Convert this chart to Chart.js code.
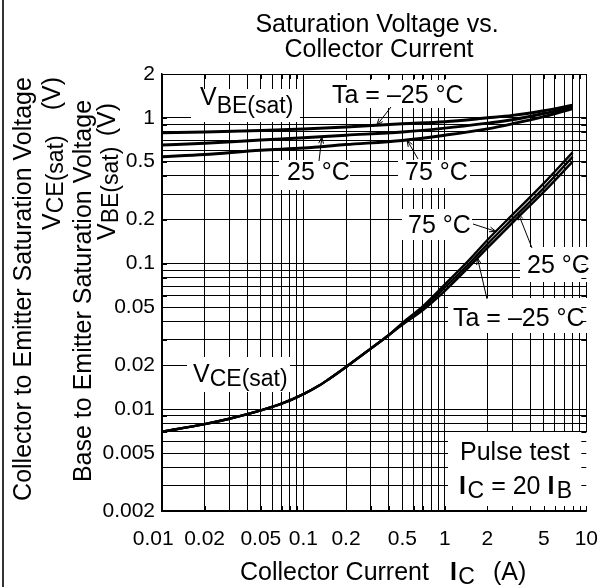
<!DOCTYPE html>
<html>
<head>
<meta charset="utf-8">
<title>Saturation Voltage vs. Collector Current</title>
<script src="https://cdn.jsdelivr.net/npm/chart.js@4.4.1/dist/chart.umd.min.js"></script>
<style>
  html, body { margin: 0; padding: 0; background: #fff; }
  #wrap { width: 614px; height: 587px; position: relative; }
</style>
</head>
<body>
<div id="wrap"><canvas id="chart"></canvas></div>
<script>
/* Saturation voltage vs. collector current (log-log), Ic = 20 Ib, pulse test */

// VBE(sat) curves, collector current in A, voltage in V
const currentBE  = [0.01, 0.02, 0.05, 0.1, 0.2, 0.5, 1, 2, 3, 5, 8];
const vbeMinus25 = [0.79, 0.80, 0.82, 0.84, 0.865, 0.91, 0.94, 1.0, 1.04, 1.12, 1.22];
const vbe25      = [0.65, 0.67, 0.705, 0.73, 0.76, 0.80, 0.85, 0.92, 0.97, 1.07, 1.19];
const vbe75      = [0.54, 0.56, 0.60, 0.62, 0.655, 0.70, 0.76, 0.84, 0.91, 1.02, 1.16];

// VCE(sat) curves
const currentCE  = [0.01, 0.02, 0.03, 0.05, 0.07, 0.1, 0.13, 0.15, 0.2, 0.3, 0.4, 0.5, 0.7, 1, 1.5, 2, 3, 5, 8];
const vceMinus25 = [0.0070, 0.0079, 0.0086, 0.0098, 0.0109, 0.0127, 0.0146, 0.0160, 0.0195, 0.0261, 0.0322, 0.0380, 0.0480, 0.0650, 0.096, 0.128, 0.19, 0.31, 0.50];
const vce25      = [0.0070, 0.0079, 0.0086, 0.0098, 0.0109, 0.0127, 0.0146, 0.0160, 0.0195, 0.0261, 0.0322, 0.0385, 0.0495, 0.0685, 0.101, 0.136, 0.202, 0.33, 0.54];
const vce75      = [0.0070, 0.0079, 0.0086, 0.0098, 0.0109, 0.0127, 0.0146, 0.0160, 0.0195, 0.0261, 0.0322, 0.0390, 0.0510, 0.0720, 0.107, 0.145, 0.216, 0.355, 0.58];

// labelled ticks
const xTickLabels = [0.01, 0.02, 0.05, 0.1, 0.2, 0.5, 1, 2, 5, 10];
const yTickLabels = [0.002, 0.005, 0.01, 0.02, 0.05, 0.1, 0.2, 0.5, 1, 2];

const X_MIN = 0.01, X_MAX = 10;
const Y_MIN = 0.002, Y_MAX = 2;

const FONT = '"Liberation Sans", Arial, Helvetica, sans-serif';

// 1..9 per decade
function logGrid(min, max) {
  const out = [];
  for (let e = Math.floor(Math.log10(min)); e <= Math.ceil(Math.log10(max)); e++) {
    for (let m = 1; m <= 9; m++) {
      const v = +(m * Math.pow(10, e)).toPrecision(6);
      if (v >= min * 0.9999 && v <= max * 1.0001) out.push(v);
    }
  }
  return out;
}
const xGrid = logGrid(X_MIN, X_MAX);
const yGrid = logGrid(Y_MIN, Y_MAX);

function isLabelled(v, list) {
  return list.some(l => Math.abs(l - v) / l < 1e-6);
}

function points(xs, ys) {
  return xs.map((x, i) => ({ x, y: ys[i] }));
}

function fontOf(size, bold) {
  return (bold ? 'bold ' : '') + size + 'px ' + FONT;
}

// runs: [text, size, dy, bold]
function drawRuns(ctx, x, y, runs) {
  runs.forEach(([text, size, dy = 0, bold = false]) => {
    ctx.font = fontOf(size, bold);
    ctx.fillText(text, x, y + dy);
    x += ctx.measureText(text).width;
  });
}

// white boxes behind the in-plot labels [x, y, w, h]
const labelBoxes = [
  [191, 89, 109, 33],
  [328, 80, 142, 28],
  [279, 160, 71, 30],
  [398, 160, 72, 28],
  [402, 209, 70, 31],
  [520, 247, 75, 35],
  [448, 298, 147, 35],
  [187, 357, 103, 35],
  [448, 432, 148, 78],
];

const plotLabels = [
  { x: 200, y: 105, runs: [['V', 25], ['BE(sat)', 23, 8]] },
  { x: 332, y: 103, runs: [['Ta = –25 °C', 25]] },
  { x: 287, y: 180, runs: [['25 °C', 25]] },
  { x: 405, y: 180, runs: [['75 °C', 25]] },
  { x: 408, y: 233, runs: [['75 °C', 25]] },
  { x: 527, y: 273, runs: [['25 °C', 25]] },
  { x: 453, y: 326, runs: [['Ta = –25 °C', 25]] },
  { x: 193, y: 382, runs: [['V', 25], ['CE(sat)', 23, 4]] },
  { x: 460, y: 460, runs: [['Pulse test', 25]] },
  { x: 459, y: 494, runs: [['I', 25, 0, true], [' ', 6], ['C', 23, 4], [' = 20 ', 25], ['I', 25, 0, true], [' ', 8], ['B', 23, 4]] },
];

// leader arrows: start in px, tip in data coordinates
const leaders = [
  { from: [391, 107], to: { x: 0.33, y: 0.89 } },
  { from: [319, 161], to: { x: 0.135, y: 0.74 } },
  { from: [418, 159], to: { x: 0.54, y: 0.705 } },
  { from: [473, 224], to: { x: 2.3, y: 0.166 } },
  { from: [532, 248], to: { x: 3.3, y: 0.221 } },
  { from: [487, 299], to: { x: 1.7, y: 0.109 } },
];

function drawArrow(ctx, x0, y0, x1, y1) {
  const a = Math.atan2(y1 - y0, x1 - x0), L = 7, s = 0.35;
  ctx.beginPath();
  ctx.moveTo(x0, y0);
  ctx.lineTo(x1, y1);
  ctx.moveTo(x1 - L * Math.cos(a - s), y1 - L * Math.sin(a - s));
  ctx.lineTo(x1, y1);
  ctx.lineTo(x1 - L * Math.cos(a + s), y1 - L * Math.sin(a + s));
  ctx.stroke();
}

const decorPlugin = {
  id: 'decor',
  beforeDatasetsDraw(chart) {
    const { ctx, chartArea: ca, scales } = chart;
    ctx.save();

    // label boxes knock out the grid
    ctx.fillStyle = '#fff';
    labelBoxes.forEach(([x, y, w, h]) => ctx.fillRect(x, y, w, h));

    // short inward ticks along the frame
    ctx.strokeStyle = '#000';
    ctx.lineWidth = 1;
    ctx.beginPath();
    xGrid.forEach(v => {
      const px = Math.round(scales.x.getPixelForValue(v)) + 0.5;
      ctx.moveTo(px, ca.bottom); ctx.lineTo(px, ca.bottom - 5);
      ctx.moveTo(px, ca.top); ctx.lineTo(px, ca.top + 5);
    });
    yGrid.forEach(v => {
      const py = Math.round(scales.y.getPixelForValue(v)) + 0.5;
      ctx.moveTo(ca.left, py); ctx.lineTo(ca.left + 5, py);
      ctx.moveTo(ca.right, py); ctx.lineTo(ca.right - 5, py);
    });
    ctx.stroke();

    // labels
    ctx.fillStyle = '#000';
    ctx.textBaseline = 'alphabetic';
    ctx.textAlign = 'left';
    plotLabels.forEach(l => drawRuns(ctx, l.x, l.y, l.runs));

    // leaders
    ctx.lineWidth = 1;
    leaders.forEach(l => {
      drawArrow(ctx, l.from[0], l.from[1],
        scales.x.getPixelForValue(l.to.x), scales.y.getPixelForValue(l.to.y));
    });
    ctx.restore();
  },
  afterDraw(chart) {
    const { ctx } = chart;
    ctx.save();
    ctx.textBaseline = 'alphabetic';

    // left page rule
    ctx.fillStyle = '#333';
    ctx.fillRect(2, 0, 2, 587);
    ctx.fillStyle = '#000';

    // title
    ctx.textAlign = 'center';
    ctx.font = fontOf(25);
    ctx.fillText('Saturation Voltage vs.', 377, 32);
    ctx.fillText('Collector Current', 379, 57);

    // x axis title
    ctx.textAlign = 'left';
    drawRuns(ctx, 240, 580, [['Collector Current', 25]]);
    drawRuns(ctx, 450, 580, [['I', 25, 0, true], [' ', 5], ['C', 23, 4]]);
    drawRuns(ctx, 493, 580, [['(A)', 25]]);

    // y axis titles, rotated
    const vertical = (bx, y, fn) => {
      ctx.save();
      ctx.translate(bx, y);
      ctx.rotate(-Math.PI / 2);
      fn();
      ctx.restore();
    };
    vertical(31, 289, () => {
      ctx.textAlign = 'center';
      ctx.font = fontOf(25);
      ctx.fillText('Collector to Emitter Saturation Voltage', 0, 0);
    });
    vertical(60, 230, () => {
      ctx.textAlign = 'left';
      drawRuns(ctx, 0, 0, [['V', 25], ['CE(sat)', 23, 3]]);
    });
    vertical(60, 77, () => {
      ctx.textAlign = 'right';
      ctx.font = fontOf(25);
      ctx.fillText('(V)', 0, 0);
    });
    vertical(90.5, 291, () => {
      ctx.textAlign = 'center';
      ctx.font = fontOf(25);
      ctx.fillText('Base to Emitter Saturation Voltage', 0, 0);
    });
    vertical(115, 240, () => {
      ctx.textAlign = 'left';
      drawRuns(ctx, 0, 0, [['V', 25], ['BE(sat)', 23, 3]]);
    });
    vertical(115, 103, () => {
      ctx.textAlign = 'right';
      ctx.font = fontOf(25);
      ctx.fillText('(V)', 0, 0);
    });
    ctx.restore();
  },
};

function curve(xs, ys, width) {
  return {
    data: points(xs, ys),
    borderColor: '#000',
    borderWidth: width,
    pointRadius: 0,
    fill: false,
    cubicInterpolationMode: 'monotone',
  };
}

function axis(min, max, grid, labels, fit, padding) {
  return {
    type: 'logarithmic',
    min, max,
    afterBuildTicks: s => { s.ticks = grid.map(v => ({ value: v })); },
    afterFit: fit,
    grid: { color: '#000', lineWidth: 1, drawTicks: false },
    border: { display: true, color: '#000', width: 1.5 },
    ticks: {
      autoSkip: false,
      maxRotation: 0,
      padding,
      color: '#000',
      font: { family: FONT, size: 21 },
      callback: v => isLabelled(v, labels) ? String(v) : '',
    },
  };
}

Chart.defaults.font.family = FONT;

const xAxis = axis(X_MIN, X_MAX, xGrid, xTickLabels, s => { s.height = 76; }, 16);
// first label sits a little left of its gridline, as in the original sheet
xAxis.ticks.callback = v => !isLabelled(v, xTickLabels) ? '' : (v === X_MIN ? '0.01   ' : String(v));
const yAxis = axis(Y_MIN, Y_MAX, yGrid, yTickLabels, s => { s.width = 162; }, 7);

new Chart(document.getElementById('chart'), {
  type: 'line',
  data: {
    datasets: [
      curve(currentBE, vbeMinus25, 3),
      curve(currentBE, vbe25, 3),
      curve(currentBE, vbe75, 3),
      curve(currentCE, vceMinus25, 2.4),
      curve(currentCE, vce25, 2.4),
      curve(currentCE, vce75, 2.4),
    ],
  },
  options: {
    responsive: true,
    maintainAspectRatio: false,
    animation: false,
    events: [],
    layout: { padding: { top: 74, right: 17, left: 0, bottom: 0 } },
    plugins: {
      legend: { display: false },
      tooltip: { enabled: false },
    },
    scales: { x: xAxis, y: yAxis },
  },
  plugins: [decorPlugin],
});
</script>
</body>
</html>
